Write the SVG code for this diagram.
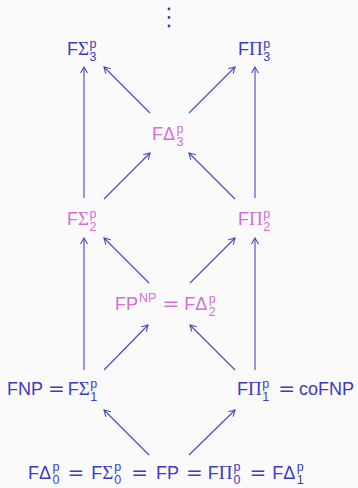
<svg xmlns="http://www.w3.org/2000/svg" width="358" height="488" viewBox="0 0 358 488">
<defs>
<style>
.bg{fill:#fafafa}
text{font-family:"Liberation Sans","DejaVu Sans",sans-serif;font-size:18px}
.b{fill:#3b3bbf}
.k{fill:#d46fd4}
.g{font-family:"Liberation Serif","DejaVu Serif",serif;font-size:19px}
.s{font-size:12.5px}
.q{font-family:"DejaVu Sans",sans-serif;font-size:20px}
.e{stroke:#4646bf;stroke-width:1.1;fill:none;marker-end:url(#ah)}
</style>
<marker id="ah" markerWidth="10" markerHeight="10" refX="0" refY="0" viewBox="-8 -5 10 10" orient="auto" markerUnits="userSpaceOnUse">
<path d="M-6,-3.5 L0,0 L-6,3.5" fill="none" stroke="#4646bf" stroke-width="1.1"/>
</marker>
</defs>
<rect class="bg" x="0" y="0" width="358" height="488"/>
<g id="connectors">
<line class="e" x1="84" y1="198" x2="84" y2="67"/>
<line class="e" x1="255" y1="198" x2="255" y2="67"/>
<line class="e" x1="150" y1="113" x2="104" y2="67"/>
<line class="e" x1="189" y1="113" x2="235" y2="67"/>
<line class="e" x1="104" y1="199" x2="150" y2="153"/>
<line class="e" x1="235" y1="199" x2="189" y2="153"/>
<line class="e" x1="84" y1="370" x2="84" y2="238"/>
<line class="e" x1="255" y1="370" x2="255" y2="238"/>
<line class="e" x1="149" y1="283" x2="104" y2="238"/>
<line class="e" x1="190" y1="283" x2="235" y2="238"/>
<line class="e" x1="104" y1="370" x2="148" y2="325"/>
<line class="e" x1="235" y1="370" x2="190" y2="325"/>
<line class="e" x1="149" y1="455" x2="104" y2="410"/>
<line class="e" x1="189" y1="455" x2="235" y2="410"/>
</g>
<g id="vdots" fill="#3b3bbf">
<circle cx="169" cy="9" r="1.4"/>
<circle cx="169" cy="17.5" r="1.4"/>
<circle cx="169" cy="26" r="1.4"/>
</g>
<g id="FSigma3">
<text class="b" x="67" y="55">F<tspan class="g">Σ</tspan><tspan class="s" dx="0.5" dy="-7">p</tspan><tspan class="s" dx="-6.95" dy="13">3</tspan></text>
</g>
<g id="FPi3">
<text class="b" x="238" y="55">F<tspan class="g">Π</tspan><tspan class="s" dx="0.5" dy="-7">p</tspan><tspan class="s" dx="-6.95" dy="13">3</tspan></text>
</g>
<g id="FDelta3">
<text class="k" x="152" y="140">FΔ<tspan class="s" dx="1.5" dy="-7">p</tspan><tspan class="s" dx="-6.95" dy="13">3</tspan></text>
</g>
<g id="FSigma2">
<text class="k" x="67" y="225">F<tspan class="g">Σ</tspan><tspan class="s" dx="0.5" dy="-7">p</tspan><tspan class="s" dx="-6.95" dy="13">2</tspan></text>
</g>
<g id="FPi2">
<text class="k" x="238" y="225">F<tspan class="g">Π</tspan><tspan class="s" dx="0.5" dy="-7">p</tspan><tspan class="s" dx="-6.95" dy="13">2</tspan></text>
</g>
<g id="FPNP">
<text class="k" x="115" y="310">FP<tspan class="s" dx="1" dy="-8">NP</tspan><tspan class="q" dx="6" dy="8">=</tspan><tspan dx="5">FΔ</tspan><tspan class="s" dx="1.5" dy="-7">p</tspan><tspan class="s" dx="-6.95" dy="13">2</tspan></text>
</g>
<g id="FNP">
<text class="b" x="7" y="395">FNP<tspan class="q" dx="5">=</tspan><tspan dx="3">F</tspan><tspan class="g">Σ</tspan><tspan class="s" dx="0.5" dy="-7">p</tspan><tspan class="s" dx="-6.95" dy="13">1</tspan></text>
</g>
<g id="coFNP">
<text class="b" x="237" y="395">F<tspan class="g">Π</tspan><tspan class="s" dx="0.5" dy="-7">p</tspan><tspan class="s" dx="-6.95" dy="13">1</tspan><tspan class="q" dx="9" dy="-6">=</tspan><tspan dx="4">coFNP</tspan></text>
</g>
<g id="FP">
<text class="b" x="28" y="479">FΔ<tspan class="s" dx="1.5" dy="-8">p</tspan><tspan class="s" dx="-6.95" dy="13">0</tspan><tspan class="q" dx="8" dy="-5">=</tspan><tspan dx="7">F</tspan><tspan class="g">Σ</tspan><tspan class="s" dx="1" dy="-8">p</tspan><tspan class="s" dx="-6.95" dy="13">0</tspan><tspan class="q" dx="10" dy="-5">=</tspan><tspan dx="8">FP</tspan><tspan class="q" dx="7">=</tspan><tspan dx="5">F</tspan><tspan class="g">Π</tspan><tspan class="s" dx="1" dy="-8">p</tspan><tspan class="s" dx="-6.95" dy="13">0</tspan><tspan class="q" dx="9" dy="-5">=</tspan><tspan dx="6">FΔ</tspan><tspan class="s" dx="1.5" dy="-8">p</tspan><tspan class="s" dx="-6.95" dy="13">1</tspan></text>
</g>
</svg>
